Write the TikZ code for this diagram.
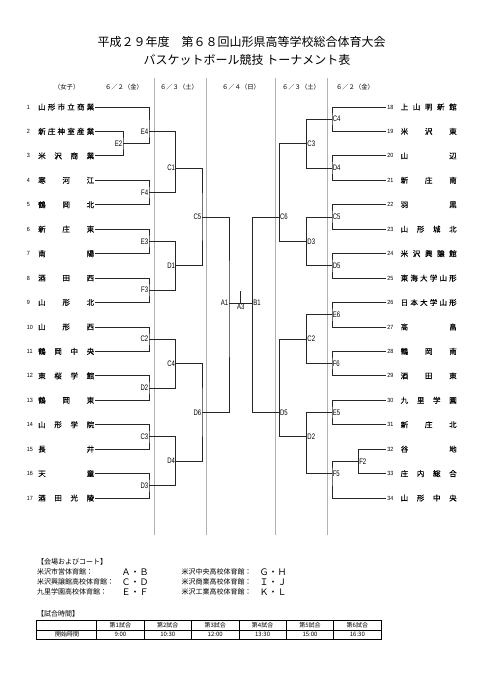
\documentclass[tikz,border=0pt]{standalone}
\usepackage{fontspec}
\setmainfont{Liberation Sans}
\newfontfamily\jp{Noto Sans CJK JP}
\newfontfamily\jpbold[FakeBold=0.3]{Noto Sans CJK JP}
\makeatletter
\newcommand\spreadname[1]{\makebox[56pt][s]{\expandafter\spr@first#1\relax}}
\def\spr@first#1{#1\spr@next}
\def\spr@next#1{\ifx#1\relax\else\hfill#1\expandafter\spr@next\fi}
\makeatother
\tikzset{
  bline/.style={line width=0.8pt, black!85},
  sepline/.style={gray!60, line width=0.6pt},
  team/.style={anchor=west, inner xsep=1pt, inner ysep=0pt, font=\jpbold\fontsize{7.5}{8}\selectfont},
  num/.style={anchor=west, inner xsep=2pt, inner ysep=0pt, xscale=0.9, font=\fontsize{6}{6}\selectfont},
  lbl/.style={inner sep=0.8pt, xscale=0.75, font=\fontsize{8}{8}\selectfont},
  hdr/.style={font=\jp\fontsize{6.3}{7}\selectfont},
  info/.style={anchor=west, inner sep=0pt, font=\jp\fontsize{7}{8}\selectfont},
  court/.style={inner sep=0pt, font=\jp\fontsize{9}{9}\selectfont},
  cell/.style={inner sep=0pt, font=\jp\fontsize{6}{6}\selectfont}
}
\begin{document}
\begin{tikzpicture}[x=1pt,y=-1pt]
\useasboundingbox (0,0) rectangle (481,680);
\node[font=\jp\fontsize{12}{14}\selectfont] (title1) at (241.5,41.7) {平成２９年度　第６８回山形県高等学校総合体育大会};
\node[font=\jp\fontsize{12}{14}\selectfont] (title2) at (247,60) {バスケットボール競技 トーナメント表};
\foreach \x/\day [count=\i] in {66.7/（女子）,124/６／２（金）,179/６／３（土）,241/６／４（日）,301/６／３（土）,355/６／２（金）}
  \node[hdr] (h\i) at (\x,87) {\day};
\foreach \x in {154,206,275.5,327.5}
  \draw[sepline] (\x,78) -- (\x,535);
\foreach \school [count=\i] in {山形市立商業,新庄神室産業,米沢商業,寒河江,鶴岡北,新庄東,南陽,酒田西,山形北,山形西,鶴岡中央,東桜学館,鶴岡東,山形学院,長井,天童,酒田光陵} {
  \node[num] (n\i) at (25,{107+(\i-1)*24.44}) {\i};
  \node[team] (t\i) at (37,{107+(\i-1)*24.44}) {\spreadname{\school}};
}
\foreach \school [count=\i from 18] in {上山明新館,米沢東,山辺,新庄南,羽黒,山形城北,米沢興譲館,東海大学山形,日本大学山形,高畠,鶴岡南,酒田東,九里学園,新庄北,谷地,庄内総合,山形中央} {
  \node[num] (n\i) at (385.5,{107+(\i-18)*24.44}) {\i};
  \node[team] (t\i) at (399.5,{107+(\i-18)*24.44}) {\spreadname{\school}};
}
\foreach \mm/\x/\y in {E2/123/143.8, E4/149/131.7, F4/149/192.6, E3/149/241.3, F3/149/290.2, C2/149/339, D2/149/387.9, C3/149/436.8, D3/149/485.6, C1/175.7/168, D1/175.7/265.8, C4/175.7/363.4, D4/175.7/461.2, C5/202/216.9, D6/202/412.3, A1/229/303}
  \coordinate[label={[lbl]left:\mm}] (L\mm) at (\x,\y);
\foreach \mm/\txt/\x/\y in {F2/F2/358.5/461.4, C4/C4/332/119.2, D4/D4/332/168.1, C5/C5/332/217, D5/D5/332/265.8, E6/E6/332/314.7, F6/F6/332/363.6, E5/E5/332/412.4, F5/F5/332/473.6, C3/C3/306.7/143.5, D3/D3/306.7/241.4, C2/C2/306.7/339, D2/D2/306.7/436.7, C6/C6/279.3/216.9, D5b/D5/279.3/412.4, B1/B1/252.7/303}
  \coordinate[label={[lbl]right:\txt}] (R\mm) at (\x,\y);
\foreach \ea/\mm/\eb in {t2.east/LE2/t3.east, t1.east/LE4/LE2, t4.east/LF4/t5.east, t6.east/LE3/t7.east, t8.east/LF3/t9.east, t10.east/LC2/t11.east, t12.east/LD2/t13.east, t14.east/LC3/t15.east, t16.east/LD3/t17.east, LE4/LC1/LF4, LE3/LD1/LF3, LC2/LC4/LD2, LC3/LD4/LD3, LC1/LC5/LD1, LC4/LD6/LD4, LC5/LA1/LD6}
  \draw[bline] (\ea) -| (\mm) |- (\eb);
\foreach \ea/\mm/\eb in {n18.west/RC4/n19.west, n20.west/RD4/n21.west, n22.west/RC5/n23.west, n24.west/RD5/n25.west, n26.west/RE6/n27.west, n28.west/RF6/n29.west, n30.west/RE5/n31.west, n32.west/RF2/n33.west, RF2/RF5/n34.west, RC4/RC3/RD4, RC5/RD3/RD5, RE6/RC2/RF6, RE5/RD2/RF5, RC3/RC6/RD3, RC2/RD5b/RD2, RC6/RB1/RD5b}
  \draw[bline] (\ea) -| (\mm) |- (\eb);
\draw[bline] (LA1) -- (RB1);
\coordinate[label={[lbl]below:A3}] (A3) at (240.8,303);
\coordinate (A3top) at (240.8,291);
\draw[bline] (A3) -- (A3top);
\node[info] (venue) at (37,561.7) {【会場およびコート】};
\foreach \hall/\cts/\hallb/\ctsb [count=\i] in {米沢市営体育館：/Ａ・Ｂ/米沢中央高校体育館：/Ｇ・Ｈ, 米沢興譲館高校体育館：/Ｃ・Ｄ/米沢商業高校体育館：/Ｉ・Ｊ, 九里学園高校体育館：/Ｅ・Ｆ/米沢工業高校体育館：/Ｋ・Ｌ} {
  \node[info] (va\i) at (37,{561.7+\i*10.2}) {\hall};
  \node[court] (ca\i) at (135,{561.7+\i*10.2}) {\cts};
  \node[info] (vb\i) at (181.5,{561.7+\i*10.2}) {\hallb};
  \node[court] (cb\i) at (273,{561.7+\i*10.2}) {\ctsb};
}
\node[info] (sched) at (37,614) {【試合時間】};
\draw[line width=0.6pt] (36.5,620) rectangle (381,639.5);
\draw[line width=0.5pt] (36.5,629.8) -- (381,629.8);
\foreach \k in {0,...,5}
  \draw[line width=0.5pt] ({96.7+\k*47.4},620) -- (96.7+\k*47.4,639.5);
\node[cell] (st) at (67,634.7) {開始時間};
\foreach \tm [count=\i] in {9:00,10:30,12:00,13:30,15:00,16:30} {
  \node[cell] (g\i) at ({96.7+(\i-0.5)*47.4},624.9) {第{\i}試合};
  \node[cell] (s\i) at ({96.7+(\i-0.5)*47.4},634.7) {\tm};
}
\end{tikzpicture}
\end{document}
